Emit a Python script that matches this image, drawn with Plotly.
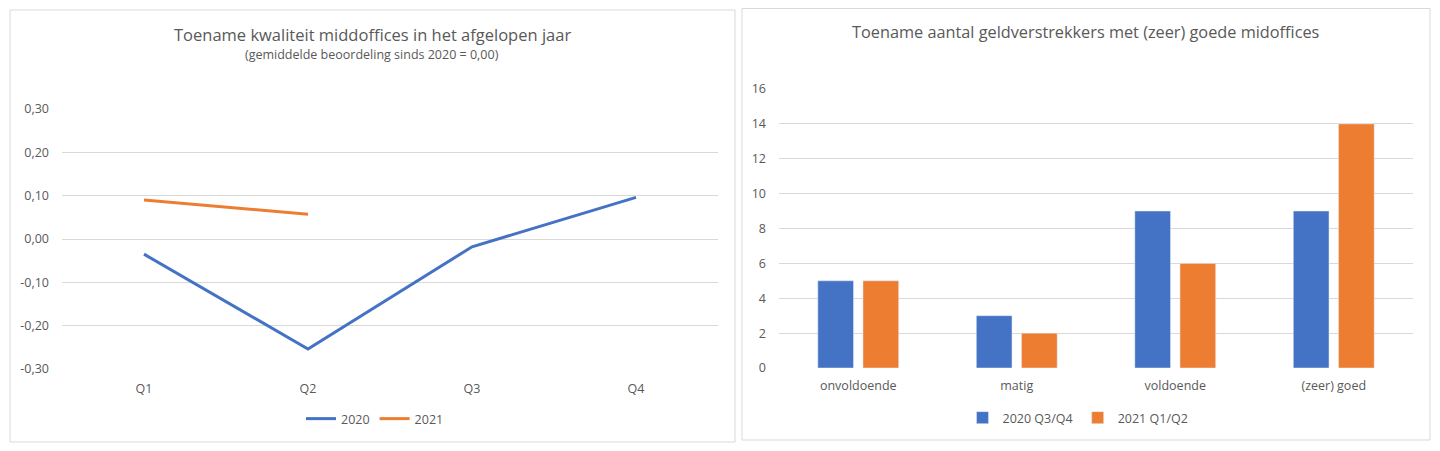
import plotly.graph_objects as go

# de pagina heeft 8px body-marge; de figuur vult de rest van het venster
OFFSET = 8
W, H = 1440 - OFFSET, 451 - OFFSET
FONT = "Open Sans"
TEXT_COLOR = "#595959"
GRID_COLOR = "#d9d9d9"
BLUE = "#4472C4"
ORANGE = "#ED7D31"

# linker grafiek: toename kwaliteit per kwartaal
quarters = ["Q1", "Q2", "Q3", "Q4"]
values_2020 = [-0.035, -0.254, -0.018, 0.096]
values_2021 = [0.090, 0.057, None, None]
line_ticks = [-0.3, -0.2, -0.1, 0.0, 0.1, 0.2, 0.3]
line_tick_labels = ["-0,30", "-0,20", "-0,10", "0,00", "0,10", "0,20", "0,30"]

# rechter grafiek: aantal geldverstrekkers per beoordeling
ratings = ["onvoldoende", "matig", "voldoende", "(zeer) goed"]
counts_2020_h2 = [5, 3, 9, 9]
counts_2021_h1 = [5, 2, 6, 14]
bar_ticks = [0, 2, 4, 6, 8, 10, 12, 14, 16]


def px_x(p):
    return (p - OFFSET) / W


def px_y(p):
    return 1 - (p - OFFSET) / H


fig = go.Figure()

fig.add_trace(go.Scatter(
    x=quarters, y=values_2020, name="2020", mode="lines",
    line=dict(color=BLUE, width=3), xaxis="x", yaxis="y", legend="legend",
))
fig.add_trace(go.Scatter(
    x=quarters, y=values_2021, name="2021", mode="lines",
    line=dict(color=ORANGE, width=3), xaxis="x", yaxis="y", legend="legend",
))

fig.add_trace(go.Bar(
    x=ratings, y=counts_2020_h2, name="2020 Q3/Q4", marker_color=BLUE,
    xaxis="x2", yaxis="y2", legend="legend2",
))
fig.add_trace(go.Bar(
    x=ratings, y=counts_2021_h1, name="2021 Q1/Q2", marker_color=ORANGE,
    xaxis="x2", yaxis="y2", legend="legend2",
))

axis_font = dict(family=FONT, size=12.5, color=TEXT_COLOR)
legend_font = dict(family=FONT, size=12.5, color=TEXT_COLOR)

fig.update_layout(
    width=W,
    height=H,
    autosize=False,
    margin=dict(l=0, r=0, t=0, b=0, pad=0),
    paper_bgcolor="white",
    plot_bgcolor="white",
    font=dict(family=FONT, color=TEXT_COLOR),
    barmode="group",
    bargap=0.43,
    bargroupgap=0.21,
    xaxis=dict(
        domain=[px_x(62), px_x(718)], anchor="y", range=[-0.5, 3.5],
        showgrid=False, zeroline=False, showline=False, automargin=False,
        tickfont=axis_font, ticks="", ticklabelstandoff=10,
    ),
    yaxis=dict(
        domain=[px_y(369), px_y(109)], anchor="x",
        range=[-0.3, 0.3], tickvals=line_ticks, ticktext=line_tick_labels,
        showgrid=True, gridcolor=GRID_COLOR, gridwidth=1, zeroline=False,
        automargin=False, tickfont=axis_font, ticks="", ticklabelstandoff=12,
    ),
    xaxis2=dict(
        domain=[px_x(779), px_x(1413)], anchor="y2",
        showgrid=False, zeroline=False, showline=False, automargin=False,
        tickfont=axis_font, ticks="", ticklabelstandoff=8,
    ),
    yaxis2=dict(
        domain=[px_y(368), px_y(89)], anchor="x2",
        range=[0, 16], tickvals=bar_ticks,
        showgrid=True, gridcolor=GRID_COLOR, gridwidth=1, zeroline=False,
        automargin=False, tickfont=axis_font, ticks="", ticklabelstandoff=12,
    ),
    legend=dict(
        orientation="h", x=px_x(375), y=px_y(419), xanchor="center", yanchor="middle",
        font=legend_font, itemwidth=30,
    ),
    legend2=dict(
        orientation="h", x=px_x(1078), y=px_y(418), xanchor="center", yanchor="middle",
        font=legend_font, itemwidth=30,
    ),
    showlegend=True,
)

# paneelkaders
fig.add_shape(type="rect", xref="paper", yref="paper",
              x0=px_x(10), x1=px_x(735), y0=px_y(442), y1=px_y(10),
              line=dict(color="#d9d9d9", width=1))
fig.add_shape(type="rect", xref="paper", yref="paper",
              x0=px_x(742), x1=px_x(1430), y0=px_y(440), y1=px_y(8.5),
              line=dict(color="#d9d9d9", width=1))

# titels
fig.add_annotation(text="Toename kwaliteit middoffices in het afgelopen jaar",
                   xref="paper", yref="paper", x=px_x(372), y=px_y(35),
                   xanchor="center", yanchor="middle", showarrow=False,
                   font=dict(family=FONT, size=16.5, color=TEXT_COLOR))
fig.add_annotation(text="(gemiddelde beoordeling sinds 2020 = 0,00)",
                   xref="paper", yref="paper", x=px_x(372), y=px_y(55),
                   xanchor="center", yanchor="middle", showarrow=False,
                   font=dict(family=FONT, size=12.5, color=TEXT_COLOR))
fig.add_annotation(text="Toename aantal geldverstrekkers met (zeer) goede midoffices",
                   xref="paper", yref="paper", x=px_x(1086), y=px_y(32),
                   xanchor="center", yanchor="middle", showarrow=False,
                   font=dict(family=FONT, size=16.3, color=TEXT_COLOR))

fig.write_html("out.html")
